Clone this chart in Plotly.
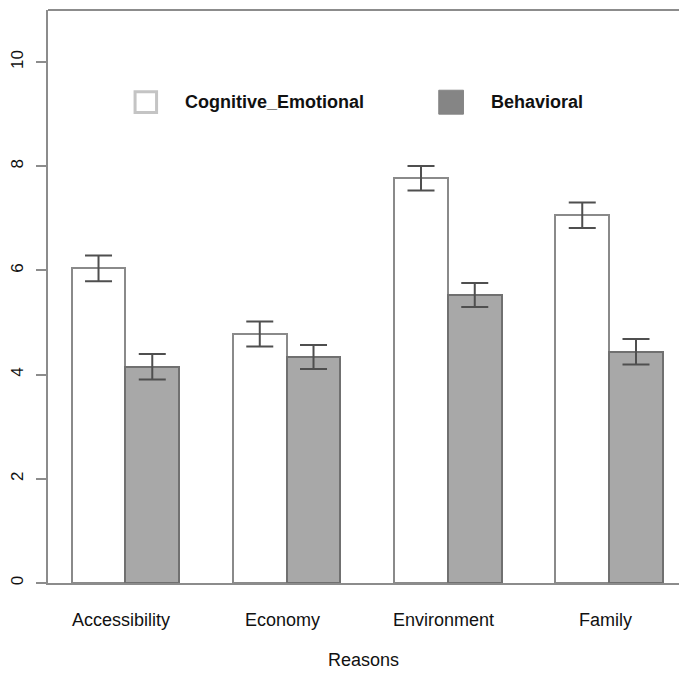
import plotly.graph_objects as go

# Mean scores per reason with standard errors
categories = ["Accessibility", "Economy", "Environment", "Family"]
series_names = ["Cognitive_Emotional", "Behavioral"]
cognitive_emotional = [6.04, 4.78, 7.77, 7.06]
cognitive_emotional_se = [0.245, 0.24, 0.235, 0.245]
behavioral = [4.15, 4.34, 5.53, 4.44]
behavioral_se = [0.245, 0.23, 0.23, 0.245]
y_ticks = [0, 2, 4, 6, 8, 10]
x_title = "Reasons"

FONT = "Liberation Sans, Arial, sans-serif"
AXIS_GREY = "#8c8c8c"

# R-style beside barplot: two unit-wide bars per group, one unit gap between groups
n = len(categories)
left_x = [1.5 + 3 * i for i in range(n)]
right_x = [2.5 + 3 * i for i in range(n)]
group_x = [2.0 + 3 * i for i in range(n)]

fig = go.Figure()
fig.add_trace(go.Bar(
    x=left_x, y=cognitive_emotional, width=1.0, name=series_names[0],
    marker=dict(color="white", line=dict(color="#8a8a8a", width=2)),
    error_y=dict(type="data", array=cognitive_emotional_se, visible=True,
                 color="#4f4f4f", thickness=2, width=13.5),
))
fig.add_trace(go.Bar(
    x=right_x, y=behavioral, width=1.0, name=series_names[1],
    marker=dict(color="#a8a8a8", line=dict(color="#707070", width=2)),
    error_y=dict(type="data", array=behavioral_se, visible=True,
                 color="#4f4f4f", thickness=2, width=13.5),
))

# frame: top edge of the plot box
fig.add_shape(type="line", xref="paper", yref="paper", x0=0, x1=1, y0=1, y1=1,
              line=dict(color=AXIS_GREY, width=2))

# category labels under each group
for gx, name in zip(group_x, categories):
    fig.add_annotation(x=gx, y=0, xref="x", yref="y", text=name, showarrow=False,
                       yanchor="middle", yshift=-37, xshift=-4,
                       font=dict(family=FONT, size=18, color="#111111"))

# axis title
fig.add_annotation(x=0.5, y=0, xref="paper", yref="y", text=x_title, showarrow=False,
                   yanchor="middle", yshift=-77,
                   font=dict(family=FONT, size=18, color="#111111"))

# legend drawn inside the plot box
legend_y = 9.23
legend_items = [
    (series_names[0], 2.38, 0.2, dict(fillcolor="white", line=dict(color="#c4c4c4", width=3))),
    (series_names[1], 8.06, 0.23, dict(fillcolor="#858585", line=dict(color="#858585", width=1))),
]
for label, lx, half, style in legend_items:
    fig.add_shape(type="rect", xref="x", yref="y",
                  x0=lx - half, x1=lx + half, y0=legend_y - half, y1=legend_y + half, **style)
    fig.add_annotation(x=lx + 0.7, y=legend_y, xref="x", yref="y", text="<b>%s</b>" % label,
                       showarrow=False, xanchor="left", yanchor="middle",
                       font=dict(family=FONT, size=18, color="#111111"))

fig.update_layout(
    width=679, height=673,
    margin=dict(l=48, r=0, t=10, b=90),
    paper_bgcolor="white", plot_bgcolor="white",
    showlegend=False, bargap=0, barmode="overlay",
    xaxis=dict(range=[0.56, 12.30], showticklabels=False, ticks="", showgrid=False,
               zeroline=False, showline=True, linecolor=AXIS_GREY, linewidth=2),
    yaxis=dict(range=[0, 11], tickvals=y_ticks, ticktext=[str(v) for v in y_ticks],
               ticks="outside", ticklen=10, tickwidth=2, tickcolor=AXIS_GREY,
               tickangle=-90, showgrid=False, zeroline=False, ticklabelstandoff=6,
               showline=True, linecolor=AXIS_GREY, linewidth=2,
               tickfont=dict(family=FONT, size=17, color="#111111")),
)

fig.write_html("out.html")
